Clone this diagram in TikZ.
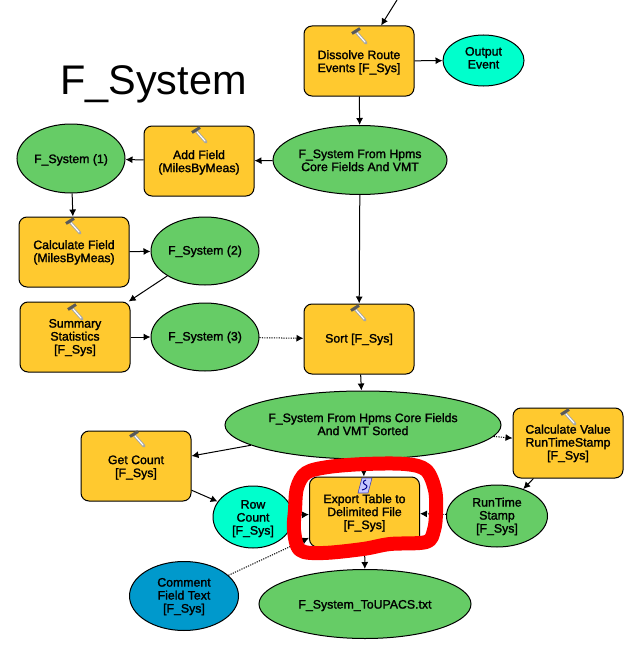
\documentclass[tikz,border=0pt]{standalone}
\usepackage{fontspec}
\setmainfont{Liberation Sans}
\newfontfamily\lblfont[FakeBold=1.6]{Liberation Sans}
\usetikzlibrary{arrows.meta,shapes.geometric}
\definecolor{toolc}{HTML}{FFC92F}
\definecolor{datac}{HTML}{66CC66}
\definecolor{cyanc}{HTML}{00FFCC}
\definecolor{bluec}{HTML}{0099CC}
\newcommand{\lift}[2][1]{\vbox{\kern\dimexpr 2\dimexpr #1pt\relax\relax\hbox{\begin{tabular}{@{}c@{}}#2\end{tabular}}}}
\tikzset{
  base/.style={draw=black,line width=1pt,inner sep=0pt,text=black,
    font=\lblfont\fontsize{12.3}{13}\selectfont},
  tool/.style={base,rectangle,rounded corners=8pt,fill=toolc,minimum width=110pt,minimum height=70pt},
  oval/.style n args={3}{base,ellipse,fill=#1,minimum width=#2,minimum height=#3},
  link/.style={line width=1pt,-{Latex[length=7pt,width=7pt]}},
  dotlink/.style={link,dash pattern=on 1.2pt off 1.2pt},
}
\newcommand{\hammericon}[2]{%
  \begin{scope}[shift={(#1,#2)}]
    \draw[line width=3pt,color=gray!70,line cap=round] (-3,-4) -- (7,7);
    \draw[line width=1.2pt,color=white,line cap=round] (-2,-3) -- (6,6);
    \draw[line width=3pt,color=black!65] (-7,-2.5) -- (1,-7.5);
  \end{scope}}
\newcommand{\scrollicon}[2]{%
  \begin{scope}[shift={(#1,#2)}]
    \fill[blue!22!white,draw=blue!45!gray,line width=0.6pt] (-3,-8) -- (7,-8) -- (3,7) -- (-7,7) -- cycle;
    \draw[line width=1pt,color=blue!55!black] (1,-6) .. controls (-3,-5) and (-2,-2) .. (1,-1) .. controls (3,0) and (2,3) .. (-3,4);
  \end{scope}}
\begin{document}
\begin{tikzpicture}[x=1pt,y=-1pt]
\useasboundingbox (0,0) rectangle (636,661);
\fill[white] (0,0) rectangle (636,661);
\node[font=\fontsize{41.4}{44}\selectfont,inner sep=0pt] (title) at (153.5,84) {F\_System};

\coordinate (top) at (397,0);
\node[tool] (dissolve) at (359,61) {\lift[2]{Dissolve Route\\Events [F\_Sys]}};
\node[oval={cyanc}{81pt}{51pt}] (output) at (483.5,60.5) {\lift[-1]{Output\\Event}};
\node[oval={datac}{174pt}{69pt}] (hpms) at (360,160) {\lift[2]{F\_System From Hpms\\Core Fields And VMT}};
\node[tool] (add) at (199,161) {\lift[2]{Add Field\\(MilesByMeas)}};
\node[oval={datac}{108pt}{69pt}] (f1) at (71,158.5) {\lift[2]{F\_System (1)}};
\node[tool] (calc) at (74,252) {\lift[1]{Calculate Field\\(MilesByMeas)}};
\node[oval={datac}{108pt}{68pt}] (f2) at (205,251) {\lift[1]{F\_System (2)}};
\node[tool] (summary) at (75,337) {\lift[1]{Summary\\Statistics\\{[F\_Sys]}}};
\node[oval={datac}{108pt}{68pt}] (f3) at (205,337) {\lift[1]{F\_System (3)}};
\node[tool] (sort) at (359,339) {\lift[1]{Sort [F\_Sys]}};
\node[oval={datac}{276pt}{68pt}] (sorted) at (363,425) {\lift[1]{F\_System From Hpms Core Fields\\And VMT Sorted}};
\node[tool] (calcval) at (568,443) {\lift[1]{Calculate Value\\RunTimeStamp\\{[F\_Sys]}}};
\node[tool] (count) at (136,466) {\lift[2]{Get Count\\{[F\_Sys]}}};
\node[oval={cyanc}{80pt}{62pt}] (row) at (253,517) {\lift[2]{Row\\Count\\{[F\_Sys]}}};
\node[tool] (export) at (364.5,512) {\lift[1.5]{Export Table to\\Delimited File\\{[F\_Sys]}}};
\node[oval={datac}{101pt}{62pt}] (stamp) at (497,516) {\lift[1]{RunTime\\Stamp\\{[F\_Sys]}}};
\node[oval={bluec}{109pt}{69pt}] (comment) at (184,596) {\lift[1]{Comment\\Field Text\\{[F\_Sys]}}};
\node[oval={datac}{212pt}{69pt}] (txt) at (365,604) {\lift[2]{F\_System\_ToUPACS.txt}};

\hammericon{359}{36}
\hammericon{199}{135}
\hammericon{73}{226}
\hammericon{75}{312}
\hammericon{358}{313}
\hammericon{568}{417}
\hammericon{137}{439}
\scrollicon{365}{486}

\draw[link] (top) -- (dissolve);
\draw[link] (dissolve) -- (output);
\draw[link] (dissolve) -- (hpms);
\draw[link] (hpms) -- (add);
\draw[link] (add) -- (f1);
\draw[link] (f1) -- (calc);
\draw[link] (calc) -- (f2);
\draw[link] (f2) -- (summary);
\draw[link] (summary) -- (f3);
\draw[dotlink] (f3) -- (sort);
\draw[link] (hpms) -- (sort);
\draw[link] (sort) -- (sorted);
\draw[link] (sorted) -- (count);
\draw[dotlink] (sorted) -- (calcval);
\draw[link] (calcval) -- (stamp);
\draw[link] (count) -- (row);
\draw[link] (sorted) -- (export);
\draw[link] (row) -- (export);
\draw[dotlink] (stamp) -- (export);
\draw[dotlink] (comment) -- (export);
\draw[link] (export) -- (txt);

\draw[red,line width=14pt,line join=round] plot[smooth cycle,tension=0.55] coordinates {
  (295,510) (297,488) (306,473) (328,467) (365,464) (405,464) (426,470) (435,490)
  (436,512) (434,530) (426,542) (390,544) (363,549) (323,553) (300,550) (294,530)};
\end{tikzpicture}
\end{document}
